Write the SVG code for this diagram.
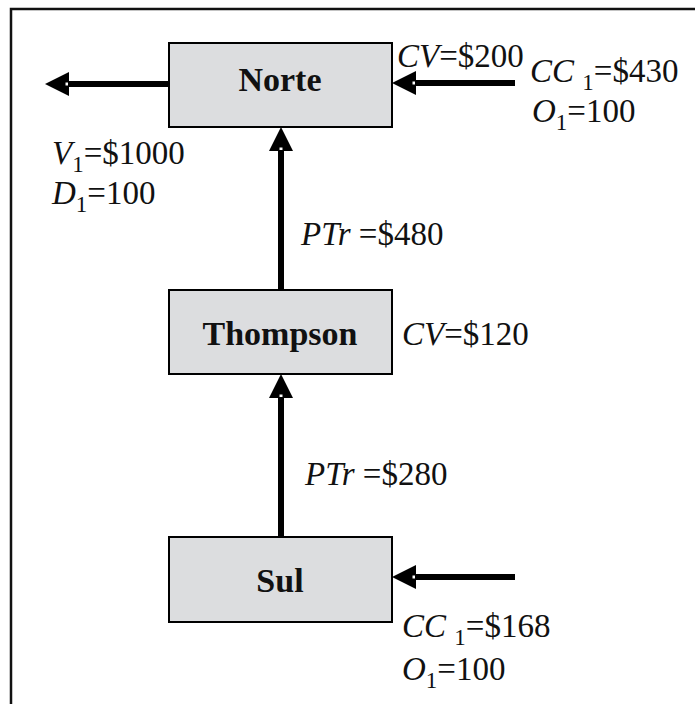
<svg xmlns="http://www.w3.org/2000/svg" width="695" height="704" viewBox="0 0 695 704">
<defs>
<style>
.box{fill:#dcdddf;stroke:#000;stroke-width:2}
.name{font-family:"Liberation Serif",serif;font-weight:bold;font-size:34px;fill:#111;text-anchor:middle}
.lbl{font-family:"Liberation Serif",serif;font-size:33px;fill:#111}
.i{font-style:italic}
.sub{font-size:23px}
.edge{stroke:#000;stroke-width:6;fill:none;marker-end:url(#ah)}
</style>
<marker id="ah" markerUnits="userSpaceOnUse" markerWidth="26" markerHeight="26" refX="0" refY="12" orient="auto" overflow="visible">
<path d="M0,0 L24,12 L0,24 Z" fill="#000"/>
<rect x="1" y="10.5" width="2.5" height="3" fill="#fff"/>
</marker>
</defs>
<rect width="695" height="704" fill="#fff"/>
<path d="M11,704 V9 H695" fill="none" stroke="#111" stroke-width="2.5"/>

<g id="connectors">
<path class="edge" d="M169,84 H69"/>
<path class="edge" d="M515,83 H416"/>
<path class="edge" d="M515,577 H416"/>
<path class="edge" d="M281,290 V151"/>
<path class="edge" d="M281,537 V398"/>
</g>

<g id="norte">
<rect class="box" x="169" y="43" width="223" height="84"/>
<text class="name" x="280" y="91">Norte</text>
</g>
<g id="thompson">
<rect class="box" x="169" y="290" width="223" height="84"/>
<text class="name" x="280" y="345">Thompson</text>
</g>
<g id="sul">
<rect class="box" x="169" y="537" width="223" height="85"/>
<text class="name" x="280" y="592">Sul</text>
</g>

<g id="labels">
<text class="lbl" x="397" y="67"><tspan class="i">CV</tspan>=$200</text>
<text class="lbl" x="530" y="82"><tspan class="i">CC</tspan> <tspan class="sub" dy="8">1</tspan><tspan dy="-8">=$430</tspan></text>
<text class="lbl" x="532" y="122"><tspan class="i">O</tspan><tspan class="sub" dy="8">1</tspan><tspan dy="-8">=100</tspan></text>
<text class="lbl" x="52" y="164"><tspan class="i">V</tspan><tspan class="sub" dy="8">1</tspan><tspan dy="-8">=$1000</tspan></text>
<text class="lbl" x="52" y="204"><tspan class="i">D</tspan><tspan class="sub" dy="8">1</tspan><tspan dy="-8">=100</tspan></text>
<text class="lbl" x="301" y="245"><tspan class="i">PTr</tspan> =$480</text>
<text class="lbl" x="402" y="345"><tspan class="i">CV</tspan>=$120</text>
<text class="lbl" x="305" y="485"><tspan class="i">PTr</tspan> =$280</text>
<text class="lbl" x="402" y="637"><tspan class="i">CC</tspan> <tspan class="sub" dy="8">1</tspan><tspan dy="-8">=$168</tspan></text>
<text class="lbl" x="402" y="680"><tspan class="i">O</tspan><tspan class="sub" dy="8">1</tspan><tspan dy="-8">=100</tspan></text>
</g>
</svg>
